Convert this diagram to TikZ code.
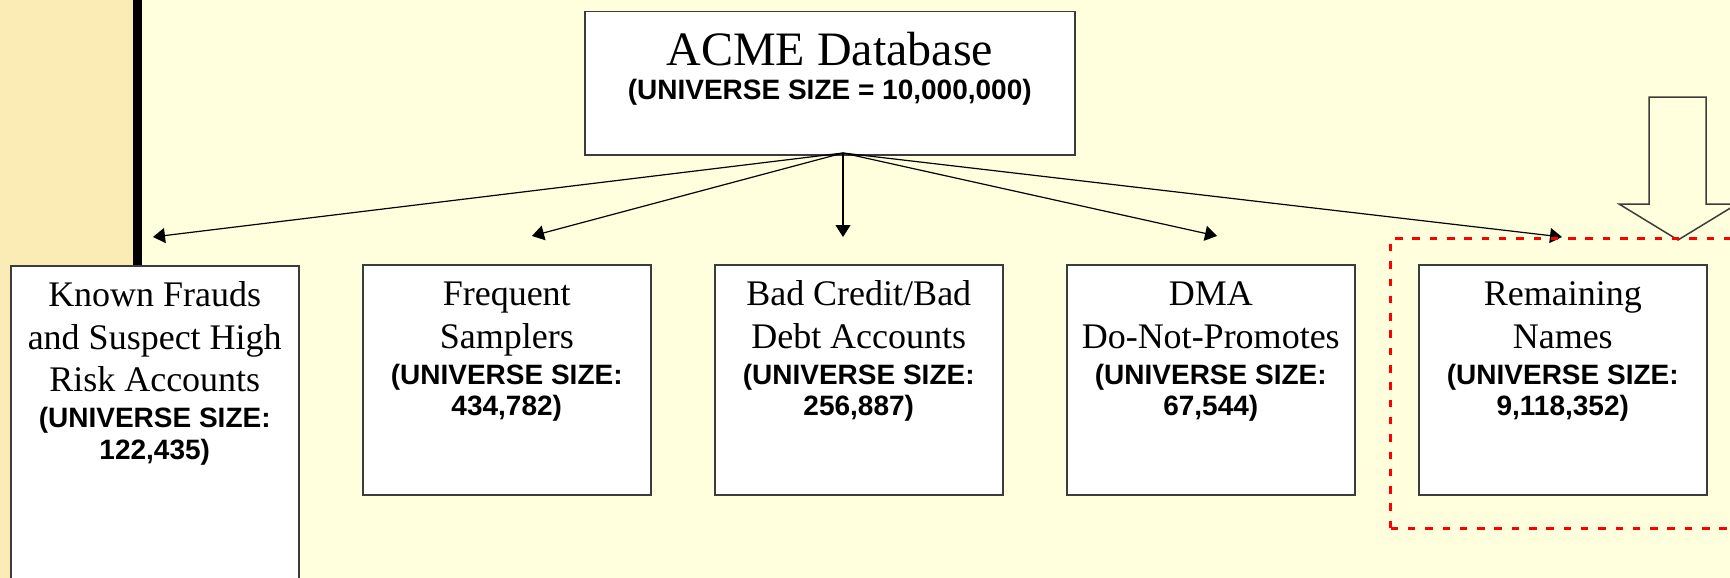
\documentclass[tikz,border=0pt]{standalone}
\usepackage{fontspec}
\setmainfont{Liberation Serif}
\newfontfamily\sansface{Liberation Sans}
\usetikzlibrary{arrows.meta}

\definecolor{paper}{RGB}{255,255,221}
\definecolor{band}{RGB}{251,235,180}
\definecolor{edge}{RGB}{60,60,60}
\definecolor{hilite}{RGB}{255,0,0}

% Text block of a category box: serif title lines, then the bold size lines
\newcommand\catlabel[3]{%
  \parbox[b][#3][t]{288pt}{\centering\lineskiplimit=-\maxdimen
    \vspace*{11pt}%
    \fontsize{36}{42.5}\selectfont\strut #1\par
    \vspace{4.5pt}%
    {\sansface\bfseries\fontsize{28}{31.5}\selectfont (UNIVERSE SIZE:\\ #2)\par}}}

\tikzset{
  catbox/.style={draw=edge, line width=1.5pt, fill=white, inner sep=0pt, anchor=north west},
  conn/.style={draw=black, line width=1.2pt, -{Triangle[length=12pt,width=15pt]}},
  blockarrow/.style={draw=edge, line width=1.5pt, line join=miter},
  selectframe/.style={draw=hilite, line width=3.3pt, dash pattern=on 7.5pt off 9.8pt,
    inner sep=0pt, anchor=north west, minimum width=380pt, minimum height=290pt}
}

\begin{document}
\begin{tikzpicture}[x=1pt,y=-1pt]
  \useasboundingbox (0,0) rectangle (1730,578);
  \clip (0,0) rectangle (1730,578);

  % background and side band
  \fill[paper] (0,0) rectangle (1730,578);
  \fill[band] (0,0) rectangle (133,578);
  \fill[black] (133,0) rectangle (142,265);

  % source database
  \node[catbox] (acme) at (584,11) {%
    \parbox[b][143pt][t]{490pt}{\centering\lineskiplimit=-\maxdimen
      \vspace*{15pt}%
      \fontsize{48}{55}\selectfont\strut ACME Database\par
      {\sansface\bfseries\fontsize{28}{34}\selectfont (UNIVERSE SIZE = 10,000,000)\par}}};

  % split point and arrow ends
  \coordinate (src) at (843,153);
  \coordinate (endA) at (153,237);
  \coordinate (endB) at (532,236);
  \coordinate (endC) at (843,237);
  \coordinate (endD) at (1217,236);
  \coordinate (endE) at (1562,237);

  \draw[conn] (src) -- (endA);
  \draw[conn] (src) -- (endB);
  \draw[conn] (src) -- (endC);
  \draw[conn] (src) -- (endD);
  \draw[conn] (src) -- (endE);

  % category boxes
  \node[catbox] (frauds) at (10,265) {\catlabel{Known Frauds\\and Suspect High\\Risk Accounts}{122,435}{330pt}};
  \node[catbox] (freq) at (362,264) {\catlabel{Frequent\\Samplers}{434,782}{230pt}};
  \node[catbox] (bad) at (714,264) {\catlabel{Bad Credit/Bad\\Debt Accounts}{256,887}{230pt}};
  \node[catbox] (dma) at (1066,264) {\catlabel{DMA\\Do-Not-Promotes}{67,544}{230pt}};
  \node[catbox] (rem) at (1418,264) {\catlabel{Remaining\\Names}{9,118,352}{230pt}};

  % hollow block arrow pointing at the kept names
  \draw[blockarrow] (1649,97) -- (1706,97) -- (1706,204) -- (1737,204)
    -- (1678,240) -- (1619,204) -- (1649,204) -- cycle;

  % dashed highlight round the remaining names
  \node[selectframe] (keep) at (1389,237) {};
\end{tikzpicture}
\end{document}
